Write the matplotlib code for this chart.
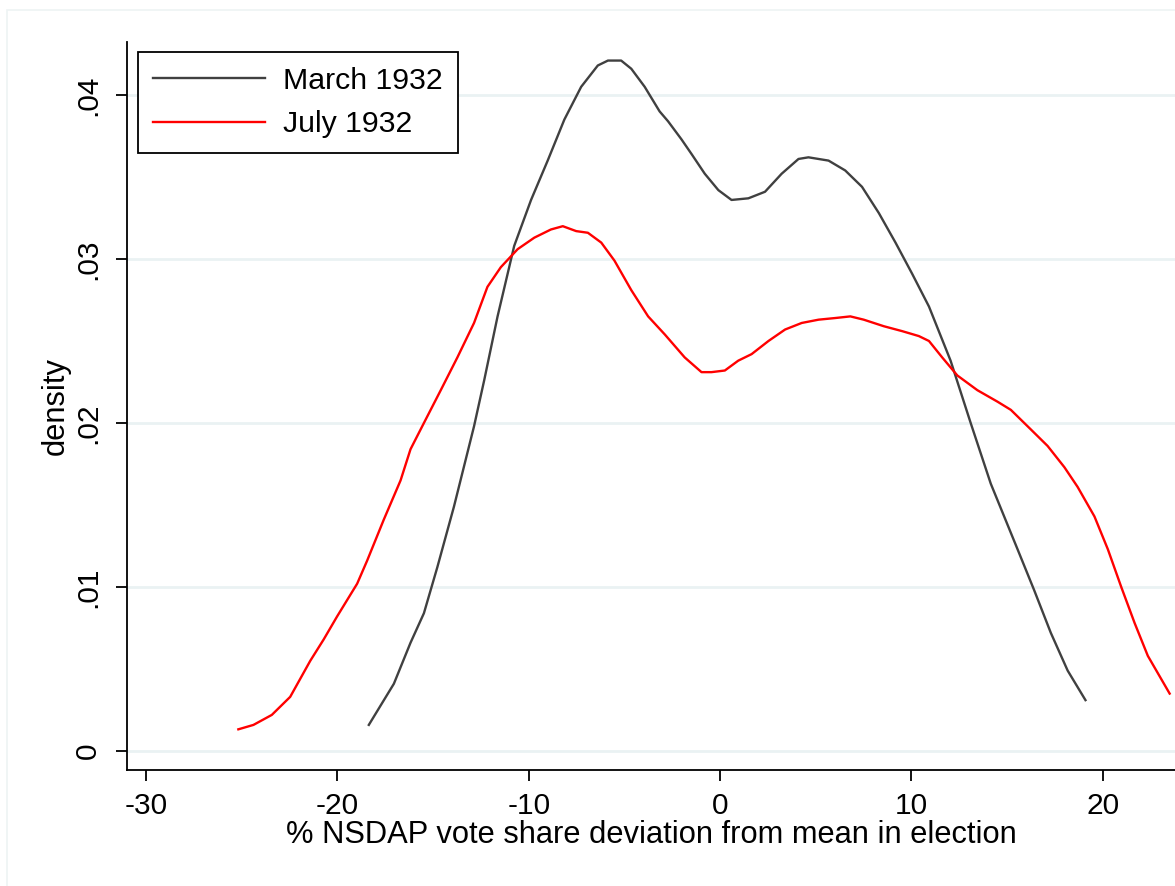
import matplotlib
matplotlib.use("Agg")
import matplotlib.pyplot as plt
from matplotlib.patches import Rectangle

# ---- data ----
march_x = [-18.36, -17.05, -16.18, -15.48, -14.78, -13.91, -12.86, -12.33, -11.63, -10.76,
           -9.88, -9.01, -8.14, -7.26, -6.39, -5.86, -5.17, -4.64, -3.94, -3.16, -2.72,
           -2.02, -1.49, -0.80, -0.09, 0.60, 1.48, 2.35, 3.22, 4.10, 4.62, 5.67, 6.54,
           7.42, 8.30, 9.17, 10.04, 10.92, 12.05, 13.10, 14.15, 14.85, 15.55, 16.42,
           17.29, 18.17, 19.10]
march_y = [0.00159, 0.0041, 0.0066, 0.0084, 0.0112, 0.0149, 0.0198, 0.0226, 0.0265, 0.0308,
           0.0336, 0.0360, 0.0385, 0.0405, 0.0418, 0.0421, 0.0421, 0.0416, 0.0405, 0.0390,
           0.0384, 0.0373, 0.0364, 0.0352, 0.0342, 0.0336, 0.0337, 0.0341, 0.0352, 0.0361,
           0.0362, 0.0360, 0.0354, 0.0344, 0.0328, 0.0310, 0.0291, 0.0271, 0.0238, 0.0200,
           0.0163, 0.0143, 0.0123, 0.0098, 0.0072, 0.0049, 0.0031]

july_x = [-25.18, -24.39, -23.43, -22.47, -21.42, -20.72, -20.02, -18.97, -18.45, -17.58,
          -16.70, -16.18, -15.48, -14.60, -13.73, -12.86, -12.16, -11.46, -10.58, -9.71,
          -8.84, -8.22, -7.52, -6.91, -6.21, -5.52, -4.64, -3.76, -2.89, -1.85, -0.97,
          -0.45, 0.25, 0.95, 1.65, 2.53, 3.40, 4.27, 5.15, 6.02, 6.81, 7.51, 8.56, 9.52,
          10.39, 10.92, 11.61, 12.40, 13.45, 14.50, 15.20, 16.25, 17.12, 18.00, 18.69,
          19.57, 20.27, 20.97, 21.67, 22.36, 23.50]
july_y = [0.00132, 0.00159, 0.0022, 0.0033, 0.0055, 0.0068, 0.0082, 0.0102, 0.0116, 0.0141,
          0.0165, 0.0184, 0.0200, 0.0220, 0.0240, 0.0261, 0.0283, 0.0295, 0.0306, 0.0313,
          0.0318, 0.0320, 0.0317, 0.0316, 0.0310, 0.0299, 0.0281, 0.0265, 0.0254, 0.0240,
          0.0231, 0.0231, 0.0232, 0.0238, 0.0242, 0.0250, 0.0257, 0.0261, 0.0263, 0.0264,
          0.0265, 0.0263, 0.0259, 0.0256, 0.0253, 0.0250, 0.0240, 0.0229, 0.0220, 0.0213,
          0.0208, 0.0196, 0.0186, 0.0173, 0.0161, 0.0143, 0.0123, 0.0100, 0.0078, 0.0058,
          0.0035]

series_labels = ["March 1932", "July 1932"]
x_ticks = [-30, -20, -10, 0, 10, 20]
x_tick_labels = ["-30", "-20", "-10", "0", "10", "20"]
y_ticks = [0, 0.01, 0.02, 0.03, 0.04]
y_tick_labels = ["0", ".01", ".02", ".03", ".04"]
x_title = "% NSDAP vote share deviation from mean in election"
y_title = "density"

# ---- figure ----
plt.rcParams['font.family'] = ['Liberation Sans', 'DejaVu Sans']
fig = plt.figure(figsize=(11.75, 8.86), dpi=100)
fig.patch.set_facecolor("white")
ax = fig.add_axes([127/1175, 1 - 770/886, 1 - 127/1175, (770 - 41.7)/886])

# faint outer graph-region border
fig.patches.append(Rectangle((6.5/1175, -0.1), 1.2, 1 - 10/886 + 0.1,
                             transform=fig.transFigure, fill=False,
                             edgecolor="#eef3f4", lw=1.2, zorder=0))

ax.plot(march_x, march_y, color="#404040", lw=1.7, label=series_labels[0], zorder=3,
        solid_joinstyle="round")
ax.plot(july_x, july_y, color="#ff0000", lw=1.7, label=series_labels[1], zorder=3,
        solid_joinstyle="round")

ax.set_xlim(-31.0, 23.78)
ax.set_ylim(-0.00116, 0.04325)

ax.set_xticks(x_ticks)
ax.set_xticklabels(x_tick_labels)
ax.set_yticks(y_ticks)
ax.set_yticklabels(y_tick_labels, rotation=90, va="center")

for yv in y_ticks:
    ax.axhline(yv, color="#eaf2f3", lw=2.0, zorder=1)

for s in ["top", "right"]:
    ax.spines[s].set_visible(False)
for s in ["left", "bottom"]:
    ax.spines[s].set_linewidth(1.3)
    ax.spines[s].set_color("black")

ax.tick_params(axis="both", direction="out", length=8, width=1.3, colors="black",
               labelsize=21.5)
ax.tick_params(axis="x", pad=8)
ax.tick_params(axis="y", pad=10)

ax.set_xlabel(x_title, fontsize=22.2, labelpad=0)
ax.set_ylabel(y_title, fontsize=22.2, labelpad=2)

leg = ax.legend(loc="upper left", bbox_to_anchor=(0.0105, 0.986), borderaxespad=0,
                fontsize=21.8, handlelength=3.7, handletextpad=0.6, labelspacing=0.5,
                borderpad=0.5, fancybox=False, frameon=True)
leg.get_frame().set_edgecolor("black")
leg.get_frame().set_linewidth(1.3)
leg.get_frame().set_alpha(1)

fig.savefig("out.png", dpi=100, facecolor="white")
